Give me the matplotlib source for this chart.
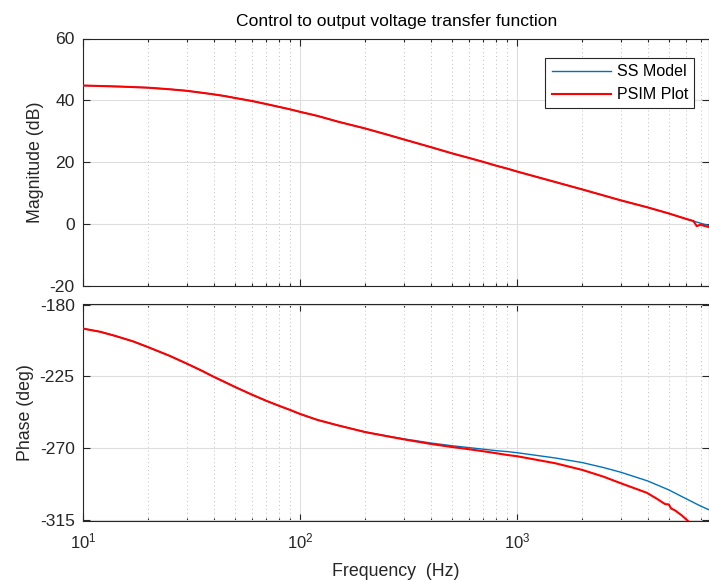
import matplotlib
matplotlib.use("Agg")
import matplotlib.pyplot as plt
from matplotlib.ticker import LogLocator, LogFormatterMathtext, NullFormatter, FixedLocator

plt.rcParams['font.family'] = ['Liberation Sans', 'DejaVu Sans']
plt.rcParams['mathtext.default'] = 'regular'
plt.rcParams['axes.unicode_minus'] = False

# ---- data ----
mag_freq_ss = [10, 12, 15, 20, 25, 30, 35, 40, 45, 50, 60, 70, 80, 90, 100, 120, 150, 200,
               250, 300, 400, 500, 600, 700, 800, 900, 1000, 2000, 3000, 4000, 5000, 6000,
               7000, 7700]
mag_ss = [44.8, 44.65, 44.45, 44.1, 43.6, 43.1, 42.5, 41.95, 41.4, 40.8, 39.8, 38.8, 37.9,
          37.1, 36.3, 35.0, 33.1, 30.9, 29.0, 27.4, 24.9, 22.9, 21.4, 20.1, 18.9, 17.95,
          17.0, 11.2, 7.7, 5.4, 3.45, 1.7, 0.3, -0.5]

mag_freq_psim = mag_freq_ss[:-2] + [6490, 6730, 6970, 7700]
mag_psim = mag_ss[:-2] + [1.0, -0.65, -0.2, -1.0]

ph_freq_ss = [10, 12, 14, 17, 20, 25, 30, 35, 40, 45, 50, 60, 70, 80, 90, 100, 120, 150,
              200, 250, 300, 400, 500, 600, 700, 800, 900, 1000, 1500, 2000, 2500, 3000,
              4000, 5000, 6000, 7000, 7700]
ph_ss = [-195.0, -197.0, -199.5, -203.0, -206.7, -212.0, -216.9, -221.2, -225.2, -228.5,
         -231.5, -236.4, -240.3, -243.4, -246.0, -248.5, -252.2, -255.7, -259.8, -262.2,
         -264.1, -266.7, -268.4, -269.6, -270.6, -271.5, -272.1, -272.8, -276.1, -279.0,
         -282.1, -285.0, -290.5, -296.1, -301.6, -306.2, -308.7]

ph_freq_psim = [10, 12, 14, 17, 20, 25, 30, 35, 40, 45, 50, 60, 70, 80, 90, 100, 120, 150,
                200, 250, 300, 400, 500, 600, 700, 800, 900, 1000, 1500, 2000, 2500, 3000,
                3960, 4400, 4810, 5000, 5120, 5350, 5740, 6100, 6300]
ph_psim = [-195.0, -197.0, -199.5, -203.0, -206.7, -212.0, -216.9, -221.2, -225.2, -228.5,
           -231.5, -236.4, -240.3, -243.4, -246.0, -248.5, -252.2, -255.7, -259.9, -262.4,
           -264.4, -267.3, -269.2, -270.6, -271.9, -273.1, -274.2, -275.0, -279.4, -283.6,
           -287.8, -291.9, -297.9, -301.6, -305.0, -305.2, -307.7, -309.0, -312.1, -315.3,
           -317.5]

mag_ticks = [-20, 0, 20, 40, 60]
ph_ticks = [-315, -270, -225, -180]
title = "Control to output voltage transfer function"

# ---- figure ----
W, H = 709, 580
fig = plt.figure(figsize=(W / 100, H / 100), dpi=100)
left = 83 / W
width = (709.5 - 83) / W
ax1 = fig.add_axes([left, (H - 286) / H, width, (286 - 38.5) / H])
ax2 = fig.add_axes([left, (H - 520.7) / H, width, (520.7 - 304) / H])

blue = (0.0, 0.447, 0.741)
red = (1.0, 0.0, 0.0)
dark = (0.15, 0.15, 0.15)
FS = 12.6

ax1.plot(mag_freq_ss, mag_ss, color=blue, lw=1.0, label='SS Model', zorder=3)
ax1.plot(mag_freq_psim, mag_psim, color=red, lw=1.5, label='PSIM Plot', zorder=4)
ax2.plot(ph_freq_ss, ph_ss, color=blue, lw=1.0, zorder=3)
ax2.plot(ph_freq_psim, ph_psim, color=red, lw=1.5, zorder=4)

for ax in (ax1, ax2):
    ax.set_xscale('log')
    ax.set_xlim(10, 7700)
    ax.xaxis.set_major_locator(LogLocator(base=10, numticks=10))
    ax.xaxis.set_minor_locator(LogLocator(base=10, subs=range(2, 10), numticks=20))
    ax.xaxis.set_minor_formatter(NullFormatter())
    ax.grid(True, which='major', color=(0.87, 0.87, 0.87), lw=0.8, ls='-', zorder=0)
    ax.grid(True, which='minor', axis='x', color=(0.75, 0.75, 0.75), lw=0.7, ls=(0, (1, 3)), zorder=0)
    ax.tick_params(which='both', direction='in', top=True, right=True, colors=dark,
                   labelsize=FS, width=0.8)
    ax.tick_params(which='major', length=5, pad=6)
    ax.tick_params(which='minor', length=2.5)
    for s in ax.spines.values():
        s.set_color(dark)
        s.set_linewidth(0.8)
    ax.set_axisbelow(True)

ax1.set_ylim(-20, 60)
ax1.yaxis.set_major_locator(FixedLocator(mag_ticks))
ax1.xaxis.set_major_formatter(NullFormatter())
ax1.set_ylabel('Magnitude (dB)', fontsize=12.8, color=dark)
ax1.set_title(title, fontsize=12.6, color='black', pad=9)

ax2.set_ylim(-315.4, -179.6)
ax2.yaxis.set_major_locator(FixedLocator(ph_ticks))
ax2.xaxis.set_major_formatter(LogFormatterMathtext())
ax2.tick_params(axis='x', which='major', pad=8, labelsize=12)
ax2.set_ylabel('Phase (deg)', fontsize=12.8, color=dark)
ax2.set_xlabel('Frequency  (Hz)', fontsize=12.8, color=dark, labelpad=8)

leg = ax1.legend(loc='upper right', bbox_to_anchor=(0.976, 0.921), borderaxespad=0,
                 fancybox=False, framealpha=1, edgecolor=dark, fontsize=11.5,
                 handlelength=3.75, handletextpad=0.35, borderpad=0.38, labelspacing=0.5)
leg.get_frame().set_linewidth(0.8)

fig.savefig('out.png', dpi=100, facecolor='white')
